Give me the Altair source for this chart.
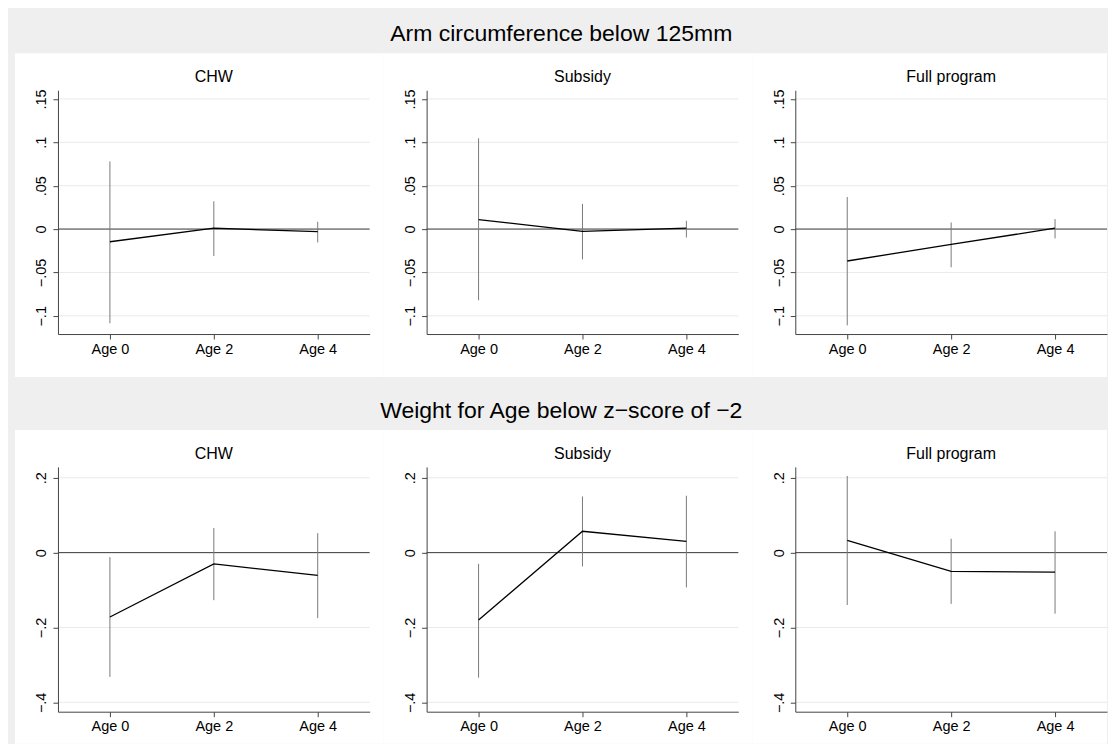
import altair as alt
import pandas as pd

ages = [0, 2, 4]
groups = ["CHW", "Subsidy", "Full program"]

# Arm circumference below 125mm
arm_chw_est = [-0.0146, 0.0010, -0.0030]
arm_chw_lo = [-0.1085, -0.0310, -0.0154]
arm_chw_hi = [0.0780, 0.0320, 0.0084]

arm_sub_est = [0.0110, -0.0027, 0.0010]
arm_sub_lo = [-0.0820, -0.0350, -0.0097]
arm_sub_hi = [0.1046, 0.0290, 0.0095]

arm_full_est = [-0.0368, -0.0177, 0.0010]
arm_full_lo = [-0.1110, -0.0440, -0.0108]
arm_full_hi = [0.0370, 0.0076, 0.0115]

# Weight for Age below z-score of -2
wfa_chw_est = [-0.172, -0.030, -0.061]
wfa_chw_lo = [-0.332, -0.127, -0.175]
wfa_chw_hi = [-0.012, 0.066, 0.052]

wfa_sub_est = [-0.180, 0.057, 0.030]
wfa_sub_lo = [-0.334, -0.037, -0.093]
wfa_sub_hi = [-0.030, 0.150, 0.152]

wfa_full_est = [0.033, -0.050, -0.052]
wfa_full_lo = [-0.140, -0.137, -0.163]
wfa_full_hi = [0.205, 0.037, 0.057]

arm_ticks = [-0.1, -0.05, 0, 0.05, 0.1, 0.15]
wfa_ticks = [-0.4, -0.2, 0, 0.2]

FONT = "Liberation Sans"
W = 312

y_label_expr = ("datum.value == 0 ? '0' : replace(replace(replace(format(datum.value, '.2~f'), '0.', '.'), '-', '\u2212'), '\u22120', '\u2212')")


def panel(title, est, lo, hi, ydom, yticks, h, right_ext, bottom_ext):
    df = pd.DataFrame({"age": ages, "est": est, "lo": lo, "hi": hi})
    xs = alt.Scale(domain=[-1, 5], nice=False, zero=False)
    ys = alt.Scale(domain=ydom, nice=False, zero=False)
    xaxis = alt.Axis(values=ages, labelExpr="'Age ' + datum.value", grid=False,
                     tickSize=5, labelPadding=3, domainColor="#444", tickColor="#444",
                     labelFontSize=14.5, labelFont=FONT, labelColor="black", title=None,
                     zindex=1)
    yaxis = alt.Axis(values=yticks, labelExpr=y_label_expr, grid=False, tickSize=5,
                     labelAngle=270, labelAlign="center", labelBaseline="bottom",
                     labelPadding=4, domainColor="#444", tickColor="#444",
                     labelFontSize=14.5, labelFont=FONT, labelColor="black", title=None,
                     zindex=1)
    bg = alt.Chart(pd.DataFrame({"k": [0]})).mark_rect(color="white").encode(
        x=alt.value(-43), x2=alt.value(W + right_ext),
        y=alt.value(-37), y2=alt.value(h + bottom_ext))
    ttl = alt.Chart(pd.DataFrame({"g": [title]})).mark_text(
        font=FONT, fontSize=16, color="black", baseline="alphabetic", align="center").encode(
        text="g:N", x=alt.value(W / 2), y=alt.value(-8))
    grid = alt.Chart(pd.DataFrame({"t": yticks})).mark_rule(color="#e9e9e9", strokeWidth=1).encode(
        y=alt.Y("t:Q", scale=ys, axis=yaxis))
    zero = alt.Chart(pd.DataFrame({"z": [0]})).mark_rule(color="#3c3c3c", strokeWidth=1).encode(
        y=alt.Y("z:Q", scale=ys, axis=yaxis))
    bars = alt.Chart(df).mark_rule(color="#7a7a7a", strokeWidth=1).encode(
        x=alt.X("age:Q", scale=xs, axis=xaxis),
        y=alt.Y("lo:Q", scale=ys, axis=yaxis), y2="hi:Q")
    line = alt.Chart(df).mark_line(color="black", strokeWidth=1.3).encode(
        x=alt.X("age:Q", scale=xs, axis=xaxis),
        y=alt.Y("est:Q", scale=ys, axis=yaxis))
    return alt.layer(bg, ttl, grid, zero, bars, line).properties(width=W, height=h)


def row(title, data, ydom, yticks, h, bottom_ext):
    panels = []
    for i, (g, (e, l, u)) in enumerate(zip(groups, data)):
        panels.append(panel(g, e, l, u, ydom, yticks, h, 14 if i < 2 else 0, bottom_ext))
    return alt.hconcat(*panels, spacing=0).properties(
        title=alt.TitleParams(title, fontSize=23, font=FONT, fontWeight="normal",
                              color="black", anchor="middle", baseline="alphabetic",
                              offset=-11))


row1 = row("Arm circumference below 125mm",
           [(arm_chw_est, arm_chw_lo, arm_chw_hi),
            (arm_sub_est, arm_sub_lo, arm_sub_hi),
            (arm_full_est, arm_full_lo, arm_full_hi)],
           [-0.121, 0.16], arm_ticks, 244, 43)
row2 = row("Weight for Age below z\u2212score of \u22122",
           [(wfa_chw_est, wfa_chw_lo, wfa_chw_hi),
            (wfa_sub_est, wfa_sub_lo, wfa_sub_hi),
            (wfa_full_est, wfa_full_lo, wfa_full_hi)],
           [-0.425, 0.229], wfa_ticks, 245, 32)

chart = alt.vconcat(row1, row2, spacing=23).properties(
    background="#efefef",
    padding={"left": 7, "top": 15, "right": 0, "bottom": 0},
).configure_view(stroke=None).configure_concat(spacing=0)

chart.save("out.html", embed_options={"renderer": "svg", "actions": False})
